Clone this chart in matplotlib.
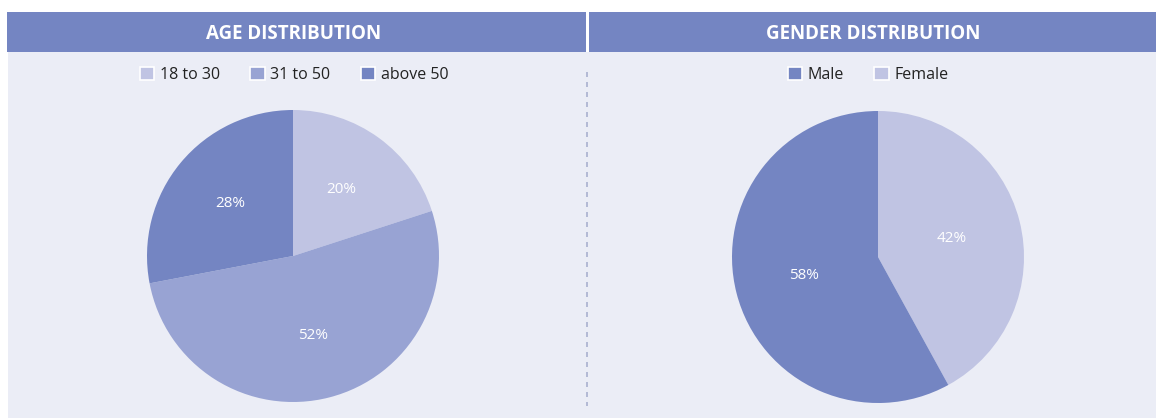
import matplotlib
matplotlib.use("Agg")
import matplotlib.pyplot as plt
from matplotlib.patches import Rectangle
from matplotlib.lines import Line2D

plt.rcParams['font.family'] = ['Open Sans', 'DejaVu Sans']

age_labels = ["18 to 30", "31 to 50", "above 50"]
age_values = [20, 52, 28]
gender_labels = ["Male", "Female"]
gender_values = [58, 42]

c_light = "#c0c4e3"
c_mid = "#98a3d3"
c_dark = "#7485c2"
header_col = "#7485c2"
panel_bg = "#ebedf6"

W, H = 1156, 419
fig = plt.figure(figsize=(W / 100, H / 100), dpi=100)
fig.patch.set_facecolor("white")

def fx(px):
    return px / W

def fy(py):
    return 1 - py / H

# panel background
fig.patches.append(Rectangle((fx(8), fy(418)), fx(1156) - fx(8), fy(52) - fy(418),
                             transform=fig.transFigure, facecolor=panel_bg, edgecolor="none", zorder=0))
# headers
fig.patches.append(Rectangle((fx(7), fy(52)), fx(586) - fx(7), fy(12) - fy(52),
                             transform=fig.transFigure, facecolor=header_col, edgecolor="none", zorder=1))
fig.patches.append(Rectangle((fx(589), fy(52)), fx(1156) - fx(589), fy(12) - fy(52),
                             transform=fig.transFigure, facecolor=header_col, edgecolor="none", zorder=1))
fig.text(fx(294), fy(34), "AGE DISTRIBUTION", color="white", fontsize=13.5, fontweight="bold",
         ha="center", va="center")
fig.text(fx(873), fy(34), "GENDER DISTRIBUTION", color="white", fontsize=13.5, fontweight="bold",
         ha="center", va="center")

# dashed separator
fig.add_artist(Line2D([fx(587), fx(587)], [fy(72), fy(406)], transform=fig.transFigure,
                      color="#a9b0cf", linewidth=1.2, linestyle=(0, (3, 3))))

def pie_axes(cx, cy, r):
    ax = fig.add_axes([fx(cx - r), fy(cy + r), fx(2 * r), fy(cy - r) - fy(cy + r)])
    ax.set_zorder(5)
    ax.patch.set_alpha(0)
    ax.axis("off")
    return ax

def fix_limits(ax):
    ax.set_xlim(-1, 1)
    ax.set_ylim(-1, 1)
    ax.set_aspect("equal")

ax1 = pie_axes(293, 256, 146)
w1, t1, a1 = ax1.pie(age_values, colors=[c_light, c_mid, c_dark], startangle=90, counterclock=False,
                     radius=1, autopct="%d%%", pctdistance=0.56,
                     textprops=dict(color="white", fontsize=11))
fix_limits(ax1)

ax2 = pie_axes(878, 257, 146)
w2, t2, a2 = ax2.pie(gender_values[::-1], colors=[c_light, c_dark], startangle=90, counterclock=False,
                     radius=1, autopct="%d%%", pctdistance=0.52,
                     textprops=dict(color="white", fontsize=11))
fix_limits(ax2)

def legend(labels, colors, cx):
    handles = [Rectangle((0, 0), 1, 1, facecolor=c, edgecolor="white", linewidth=1.2) for c in colors]
    lg = fig.legend(handles, labels, loc="center", bbox_to_anchor=(fx(cx), fy(75)), ncol=len(labels),
                    frameon=False, fontsize=11.5, handlelength=0.9, handleheight=0.9, handletextpad=0.35,
                    columnspacing=1.9, borderpad=0)
    for t in lg.get_texts():
        t.set_color("#222222")

legend(age_labels, [c_light, c_mid, c_dark], 294)
legend(gender_labels, [c_dark, c_light], 868)

fig.savefig("out.png", dpi=100, facecolor="white")
